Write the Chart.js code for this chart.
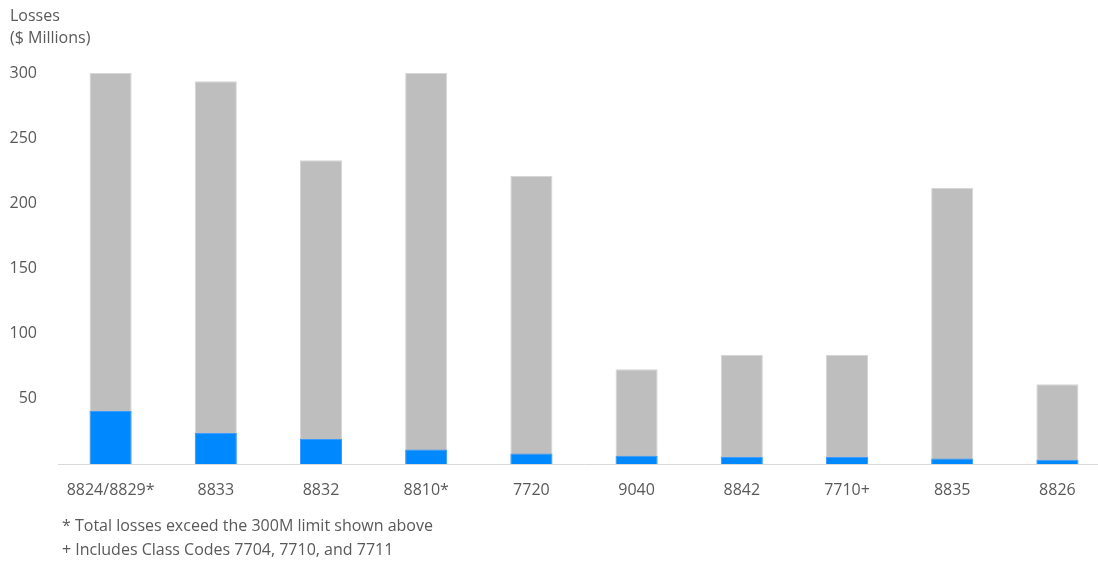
<!DOCTYPE html>
<html>
<head>
<meta charset="utf-8">
<script src="https://cdn.jsdelivr.net/npm/chart.js@4/dist/chart.umd.min.js"></script>
<style>
  html, body { margin: 0; padding: 0; background: #fff; overflow: hidden; }
  #wrap { position: relative; width: 1098px; height: 563px; overflow: hidden; font-family: "Open Sans", sans-serif; color: #595959; }
  #myChart { position: absolute; left: 0; top: 0; }
  .ttl { position: absolute; left: 10px; top: 4px; font-size: 16px; line-height: 22px; }
  .note { position: absolute; left: 62px; top: 513px; font-size: 16px; line-height: 24px; }
</style>
</head>
<body>
<div id="wrap">
  <canvas id="myChart" width="1112" height="563"></canvas>
  <div class="ttl">Losses<br>($ Millions)</div>
  <div class="note">* Total losses exceed the 300M limit shown above<br>+ Includes Class Codes 7704, 7710, and 7711</div>
</div>
<script>
const classCodes = ["8824/8829*", "8833", "8832", "8810*", "7720", "9040", "8842", "7710+", "8835", "8826"];
const blueValues = [40.6, 23.8, 19.2, 11.2, 8.0, 6.3, 5.3, 5.3, 4.2, 3.2];
const totalValues = [300, 293.7, 233, 300, 221, 72.7, 83.6, 83.6, 211.7, 61.2];
const yTicks = [50, 100, 150, 200, 250, 300];

const font = { family: "'Open Sans', sans-serif", size: 16 };

new Chart("myChart", {
    type: 'bar',
    data: {
        labels: classCodes,
        datasets: [
            {
                data: blueValues,
                backgroundColor: "#0088ff",
                borderColor: "#3a9cff",
                borderWidth: 1,
                grouped: false,
                categoryPercentage: 1,
                barPercentage: 0.4
            },
            {
                data: totalValues,
                backgroundColor: "#bebebe",
                borderColor: "#d6d6d6",
                borderWidth: 1,
                grouped: false,
                categoryPercentage: 1,
                barPercentage: 0.4
            }
        ]
    },
    options: {
        responsive: false,
        animation: false,
        layout: { padding: { left: 0, right: 2, top: 73, bottom: 59 } },
        plugins: { legend: { display: false }, tooltip: { enabled: false } },
        scales: {
            x: {
                grid: { display: false, drawTicks: false },
                border: { display: true, color: "#d9d9d9", width: 1 },
                ticks: { color: "#595959", font: font, padding: 17, maxRotation: 0 },
                afterFit: (s) => { s.height = 40; }
            },
            y: {
                min: 0,
                max: 300,
                grid: { display: false, drawTicks: false },
                border: { display: false },
                afterBuildTicks: (s) => { s.ticks = yTicks.map(v => ({ value: v })); },
                ticks: { color: "#595959", font: font, padding: 21 },
                afterFit: (s) => { s.width = 58; }
            }
        }
    }
});
</script>
</body>
</html>
